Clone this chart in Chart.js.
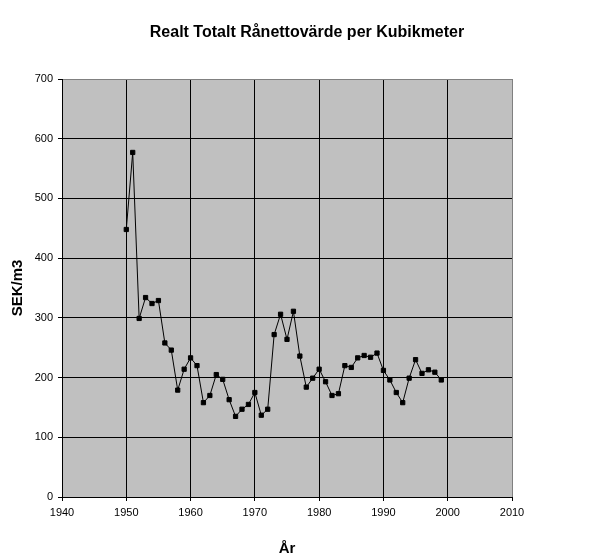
<!DOCTYPE html>
<html>
<head>
<meta charset="utf-8">
<script src="https://cdn.jsdelivr.net/npm/chart.js@4"></script>
<style>
  html, body { margin: 0; padding: 0; background: #fff; }
</style>
</head>
<body>
<canvas id="chart" width="614" height="558"></canvas>
<script>
var years = [
  1950, 1951, 1952, 1953, 1954, 1955, 1956, 1957, 1958, 1959,
  1960, 1961, 1962, 1963, 1964, 1965, 1966, 1967, 1968, 1969,
  1970, 1971, 1972, 1973, 1974, 1975, 1976, 1977, 1978, 1979,
  1980, 1981, 1982, 1983, 1984, 1985, 1986, 1987, 1988, 1989,
  1990, 1991, 1992, 1993, 1994, 1995, 1996, 1997, 1998, 1999];
var values = [
  448, 577, 299, 334, 324, 329, 258, 246, 179, 214,
  233, 220, 158, 170, 205, 197, 163, 135, 147, 155,
  175, 137, 147, 272, 306, 264, 311, 236, 184, 199,
  214, 193, 170, 173, 220, 217, 233, 237, 234, 241,
  212, 196, 175, 158, 199, 230, 207, 213, 209, 196];
var xTicks = [1940, 1950, 1960, 1970, 1980, 1990, 2000, 2010];
var yTicks = [0, 100, 200, 300, 400, 500, 600, 700];

var FONT = 'Liberation Sans, Arial, sans-serif';

// grey plot background
var plotBg = {
  id: 'plotBg',
  beforeDraw: function(chart) {
    var a = chart.chartArea;
    var ctx = chart.ctx;
    ctx.save();
    ctx.fillStyle = '#c0c0c0';
    ctx.fillRect(a.left, a.top, a.right - a.left, a.bottom - a.top);
    ctx.restore();
  }
};

var points = years.map(function(y, i) { return { x: y, y: values[i] }; });

var ctx = document.querySelector('#chart').getContext('2d');
var chart = new Chart(ctx, {
  type: 'line',
  data: {
    datasets: [{
      data: points,
      borderColor: '#000',
      borderWidth: 1,
      tension: 0,
      pointStyle: 'rect',
      pointRadius: 3,
      pointBorderWidth: 1,
      pointBackgroundColor: '#000',
      pointBorderColor: '#000'
    }]
  },
  options: {
    responsive: false,
    animation: false,
    layout: { padding: 0 },
    plugins: {
      legend: { display: false },
      tooltip: { enabled: false },
      title: {
        display: true,
        text: 'Realt Totalt Rånettovärde per Kubikmeter',
        color: '#000',
        font: { family: FONT, size: 16, weight: 'bold' },
        padding: { top: 23, bottom: 36.8 }
      }
    },
    scales: {
      x: {
        type: 'linear',
        min: xTicks[0],
        max: xTicks[xTicks.length - 1],
        afterBuildTicks: function(s) { s.ticks = xTicks.map(function(v) { return { value: v }; }); },
        afterFit: function(s) { s.height = 61; },
        ticks: {
          color: '#000',
          padding: 5,
          font: { family: FONT, size: 11 },
          callback: function(v) { return String(v); }
        },
        grid: {
          color: function(c) { return c.tick && c.tick.value === 2010 ? '#808080' : '#000'; },
          tickColor: '#000',
          tickLength: 4
        },
        border: { color: '#000' },
        title: {
          display: true,
          text: 'År',
          color: '#000',
          font: { family: FONT, size: 15, weight: 'bold' },
          padding: 0
        }
      },
      y: {
        min: yTicks[0],
        max: yTicks[yTicks.length - 1],
        afterBuildTicks: function(s) { s.ticks = yTicks.map(function(v) { return { value: v }; }); },
        afterFit: function(s) { s.width = 62; },
        ticks: {
          color: '#000',
          padding: 5,
          font: { family: FONT, size: 11 }
        },
        grid: {
          color: function(c) { return c.tick && c.tick.value === 700 ? '#808080' : '#000'; },
          tickColor: '#000',
          tickLength: 4
        },
        border: { color: '#000' },
        title: {
          display: true,
          text: 'SEK/m3',
          color: '#000',
          font: { family: FONT, size: 15, weight: 'bold' },
          padding: { top: 9, bottom: 0 }
        }
      },
      // empty right-hand box to keep the plot where the original has it
      y2: {
        position: 'right',
        grid: { display: false },
        ticks: { display: false },
        border: { display: false },
        afterFit: function(s) { s.width = 102; }
      }
    }
  },
  plugins: [plotBg]
});
</script>
</body>
</html>
